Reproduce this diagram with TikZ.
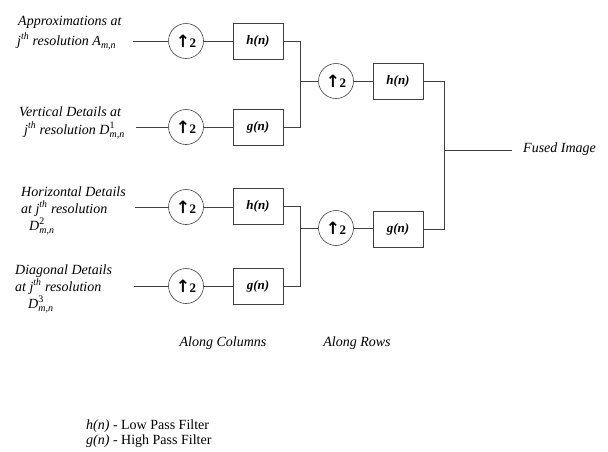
\documentclass[tikz,border=0pt]{standalone}
\usepackage{fontspec}
\setmainfont{Liberation Serif}
\newfontfamily\arrowfont{DejaVu Sans}
\newcommand\SupSub[2]{$^{\hbox{\fontsize{10}{10}\selectfont\upshape #1}}_{\hbox{\fontsize{10}{10}\selectfont\itshape #2}}$}
\newcommand\JTh{j\textsuperscript{th}}
\newcommand\UpTwo{{\arrowfont\fontsize{17}{17}\selectfont\bfseries ↑}\kern-0.5pt\raisebox{0pt}{2}}
\begin{document}
\begin{tikzpicture}[x=1pt,y=-1pt,
  lbl/.style={font=\itshape\fontsize{14}{16}\selectfont, inner sep=0pt, anchor=base west},
  leg/.style={font=\fontsize{14}{16}\selectfont, inner sep=0pt, anchor=base west},
  up/.style={circle, draw=black!75, line width=0.6pt, minimum size=35pt, inner sep=0pt, font=\bfseries\fontsize{13}{15}\selectfont},
  filt/.style={draw=black!75, line width=0.6pt, minimum width=50pt, minimum height=36pt, inner sep=0pt, font=\bfseries\itshape\fontsize{13}{15}\selectfont},
  wire/.style={draw=black!75, line width=0.7pt}]
\useasboundingbox (0,0) rectangle (608,451);
% labels
\node[lbl] (a1) at (18,25) {Approximations at};
\node[lbl] (a2) at (17,45) {\JTh\ resolution A\SupSub{}{m,n}};
\node[lbl] (b1) at (19,116) {Vertical Details at};
\node[lbl] (b2) at (24,134) {\JTh\ resolution D\SupSub{1}{m,n}};
\node[lbl] (c1) at (21,196) {Horizontal Details};
\node[lbl] (c2) at (21,213) {at \JTh\ resolution};
\node[lbl] (c3) at (29,230) {D\SupSub{2}{m,n}};
\node[lbl] (d1) at (15,274) {Diagonal Details};
\node[lbl] (d2) at (15,291) {at \JTh\ resolution};
\node[lbl] (d3) at (28,308) {D\SupSub{3}{m,n}};
% input free ends
\coordinate (i1) at (133,41);
\coordinate (i2) at (136,127);
\coordinate (i3) at (135,207);
\coordinate (i4) at (134,286);
% blocks
\node[up] (u1) at (186,41) {\UpTwo};
\node[filt] (f1) at (258,41) {h(n)};
\node[up] (u2) at (186,127) {\UpTwo};
\node[filt] (f2) at (258,127) {g(n)};
\node[up] (u3) at (186,207) {\UpTwo};
\node[filt] (f3) at (258,206) {h(n)};
\node[up] (u4) at (186,286) {\UpTwo};
\node[filt] (f4) at (258,286) {g(n)};
\coordinate (m1) at (300,81);
\coordinate (m2) at (300,228);
\node[up] (u5) at (336,81) {\UpTwo};
\node[filt] (f5) at (398,81) {h(n)};
\node[up] (u6) at (336,228) {\UpTwo};
\node[filt] (f6) at (398,229) {g(n)};
\coordinate (m3) at (444,150);
\coordinate (o) at (512,150);
\node[lbl] (fused) at (523,152) {Fused Image};
% wires
\draw[wire] (i1) -- (u1);
\draw[wire] (i2) -- (u2);
\draw[wire] (i3) -- (u3);
\draw[wire] (i4) -- (u4);
\draw[wire] (u1) -- (f1);
\draw[wire] (u2) -- (f2);
\draw[wire] (u3.east) -- (u3.east -| f3.west);
\draw[wire] (u4) -- (f4);
\draw[wire] (f1.east) -| (m1);
\draw[wire] (f2.east) -| (m1);
\draw[wire] (m1) -- (u5);
\draw[wire] (f3.east) -| (m2);
\draw[wire] (f4.east) -| (m2);
\draw[wire] (m2) -- (u6);
\draw[wire] (u5) -- (f5);
\draw[wire] (u6.east) -- (u6.east -| f6.west);
\draw[wire] (f5.east) -| (m3);
\draw[wire] (f6.east) -| (m3);
\draw[wire] (m3) -- (o);
% captions
\node[lbl, anchor=base] (ac) at (223,346) {Along Columns};
\node[lbl, anchor=base] (ar) at (357,346) {Along Rows};
\node[leg] (l1) at (86,429) {\textit{h(n)} - Low Pass Filter};
\node[leg] (l2) at (86,444) {\textit{g(n)} - High Pass Filter};
\end{tikzpicture}
\end{document}
